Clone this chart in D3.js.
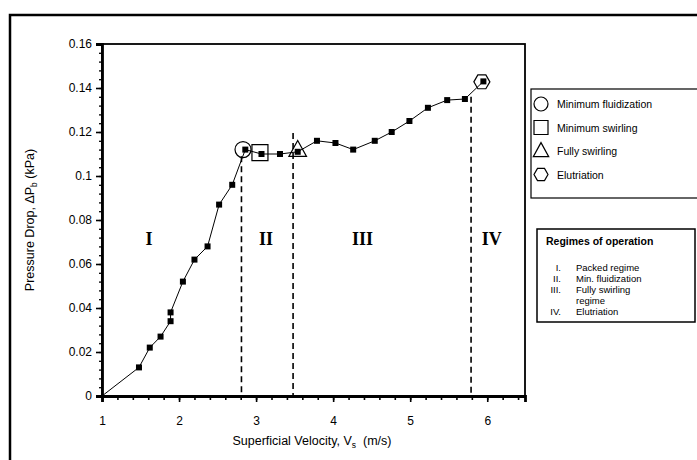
<!DOCTYPE html>
<html><head><meta charset="utf-8">
<script src="https://cdn.jsdelivr.net/npm/d3@7"></script>
<style>body{margin:0;background:#fff}svg{display:block}</style>
</head><body>
<svg id="c" width="697" height="460"></svg>
<script>
const velocity = [1, 1.48, 1.62, 1.76, 1.89, 1.89, 2.05, 2.2, 2.37, 2.52, 2.69, 2.86, 3.07, 3.31, 3.54, 3.79, 4.03, 4.26, 4.54, 4.76, 4.99, 5.23, 5.48, 5.71, 5.95];
const pressure = [0, 0.013, 0.022, 0.027, 0.034, 0.038, 0.052, 0.062, 0.068, 0.087, 0.096, 0.112, 0.110, 0.110, 0.111, 0.116, 0.115, 0.112, 0.116, 0.120, 0.125, 0.131, 0.1345, 0.135, 0.143];
const xTicks = [1, 2, 3, 4, 5, 6];
const yTicks = [0, 0.02, 0.04, 0.06, 0.08, 0.1, 0.12, 0.14, 0.16];
const yTickLabels = ["0", "0.02", "0.04", "0.06", "0.08", "0.1", "0.12", "0.14", "0.16"];
const boundaries = [2.81, 3.48, 5.79];
const boundaryTops = [0.109, 0.1195, 0.136];
const regimeNames = ["I", "II", "III", "IV"];
const regimeX = [1.61, 3.13, 4.38, 6.06];
const events = [
  {name: "Minimum fluidization", shape: "circle", v: 2.83, p: 0.112},
  {name: "Minimum swirling", shape: "square", v: 3.05, p: 0.1106},
  {name: "Fully swirling", shape: "triangle", v: 3.54, p: 0.1118},
  {name: "Elutriation", shape: "hexagon", v: 5.93, p: 0.1428}
];
const regimeNumerals = ["I.", "II.", "III.", "", "IV."];
const regimeTexts = ["Packed regime", "Min. fluidization", "Fully swirling", "regime", "Elutriation"];

const svg = d3.select("#c");
const x = d3.scaleLinear().domain([1, 6.49]).range([102, 525]);
const y = d3.scaleLinear().domain([0, 0.16]).range([396, 44]);
const f = "Arial, Liberation Sans, sans-serif";

// outer frame
svg.append("path").attr("d", "M10,460 L10,15 L697,15").attr("fill", "none").attr("stroke", "#000").attr("stroke-width", 2.5);

// plot box
svg.append("rect").attr("x", 102).attr("y", 44).attr("width", 423).attr("height", 352)
  .attr("fill", "none").attr("stroke", "#000").attr("stroke-width", 1.8);

// axes
const yMinor = d3.range(0, 0.1601, 0.004);
svg.append("g").attr("transform", "translate(102,0)")
  .call(d3.axisLeft(y).tickValues(yMinor).tickSize(3).tickFormat(""))
  .call(g => g.select(".domain").remove())
  .selectAll("line").attr("stroke-width", 1.3);
const ya = svg.append("g").attr("transform", "translate(102,0)")
  .call(d3.axisLeft(y).tickValues(yTicks).tickSize(6).tickPadding(4).tickFormat((d, i) => yTickLabels[i]));
ya.select(".domain").attr("stroke-width", 2.8);
ya.selectAll("line").attr("stroke-width", 1.6);
ya.selectAll("text").attr("font-family", f).attr("font-size", 12).attr("fill", "#000");

const xMinor = d3.range(1, 6.49, 0.2);
svg.append("g").attr("transform", "translate(0,396)")
  .call(d3.axisBottom(x).tickValues(xMinor).tickSize(4).tickFormat(""))
  .call(g => g.select(".domain").remove())
  .selectAll("line").attr("stroke-width", 1.6);
const xa = svg.append("g").attr("transform", "translate(0,396)")
  .call(d3.axisBottom(x).tickValues(xTicks).tickSize(6).tickPadding(14).tickFormat(d3.format("d")));
xa.select(".domain").attr("stroke-width", 2.8);
xa.selectAll("line").attr("stroke-width", 1.6);
xa.selectAll("text").attr("font-family", f).attr("font-size", 12).attr("fill", "#000");

// axis titles
svg.append("text").attr("x", 312).attr("y", 445).attr("text-anchor", "middle")
  .attr("font-family", f).attr("font-size", 12.5)
  .html('Superficial Velocity, V<tspan font-size="8.5" dy="3">s</tspan><tspan dy="-3" xml:space="preserve">  (m/s)</tspan>');
svg.append("text").attr("transform", "translate(34,220) rotate(-90)").attr("text-anchor", "middle")
  .attr("font-family", f).attr("font-size", 12.5)
  .html('Pressure Drop, ΔP<tspan font-size="8.5" dy="3">b</tspan><tspan dy="-3"> (kPa)</tspan>');

// regime boundaries
boundaries.forEach((b, i) => {
  svg.append("line").attr("x1", x(b)).attr("x2", x(b)).attr("y1", y(boundaryTops[i])).attr("y2", y(0))
    .attr("stroke", "#000").attr("stroke-width", 1.6).attr("stroke-dasharray", "6,4");
});

// roman numerals
regimeNames.forEach((n, i) => {
  svg.append("text").attr("x", x(regimeX[i])).attr("y", 245).attr("text-anchor", "middle")
    .attr("font-family", "Liberation Serif, Times New Roman, serif").attr("font-size", 18).attr("font-weight", "bold").text(n);
});

// line
const pts = velocity.map((v, i) => [v, pressure[i]]);
svg.append("path").datum(pts)
  .attr("d", d3.line().x(d => x(d[0])).y(d => y(d[1])))
  .attr("fill", "none").attr("stroke", "#000").attr("stroke-width", 1);

svg.selectAll(".pt").data(pts.slice(1)).join("rect")
  .attr("x", d => x(d[0]) - 3).attr("y", d => y(d[1]) - 3).attr("width", 6).attr("height", 6).attr("fill", "#000");

// event symbols
function shapePath(shape, cx, cy, r) {
  if (shape === "square") return `M${cx - r},${cy - r}h${2 * r}v${2 * r}h${-2 * r}Z`;
  if (shape === "triangle") return `M${cx},${cy - r * 1.2}L${cx + r * 1.1},${cy + r * 0.8}L${cx - r * 1.1},${cy + r * 0.8}Z`;
  const a = d3.range(6).map(k => { const t = Math.PI / 3 * k; return [cx + r * Math.cos(t), cy + r * Math.sin(t)]; });
  return "M" + a.map(p => p.join(",")).join("L") + "Z";
}
function drawShape(g, shape, cx, cy, r) {
  if (shape === "circle") g.append("circle").attr("cx", cx).attr("cy", cy).attr("r", r).attr("fill", "none").attr("stroke", "#000").attr("stroke-width", 1.2);
  else g.append("path").attr("d", shapePath(shape, cx, cy, r)).attr("fill", "none").attr("stroke", "#000").attr("stroke-width", 1.2);
}
events.forEach(e => drawShape(svg, e.shape, x(e.v), y(e.p), 8));

// legend 1
svg.append("rect").attr("x", 531).attr("y", 89).attr("width", 170).attr("height", 109).attr("fill", "#fff").attr("stroke", "#000").attr("stroke-width", 1.2);
events.forEach((e, i) => {
  const cy = 104 + i * 23.5;
  drawShape(svg, e.shape, 541, cy, 7);
  svg.append("text").attr("x", 557).attr("y", cy + 4).attr("font-family", f).attr("font-size", 10.5).text(e.name);
});

// legend 2
svg.append("rect").attr("x", 537).attr("y", 229).attr("width", 158).attr("height", 93).attr("fill", "#fff").attr("stroke", "#000").attr("stroke-width", 1.5);
svg.append("text").attr("x", 546).attr("y", 245).attr("font-family", f).attr("font-size", 10.5).attr("font-weight", "bold").text("Regimes of operation");
regimeTexts.forEach((t, i) => {
  const yy = 271 + i * 11;
  svg.append("text").attr("x", 561).attr("y", yy).attr("text-anchor", "end").attr("font-family", f).attr("font-size", 9.5).text(regimeNumerals[i]);
  svg.append("text").attr("x", 576).attr("y", yy).attr("font-family", f).attr("font-size", 9.5).text(t);
});
</script>
</body></html>
